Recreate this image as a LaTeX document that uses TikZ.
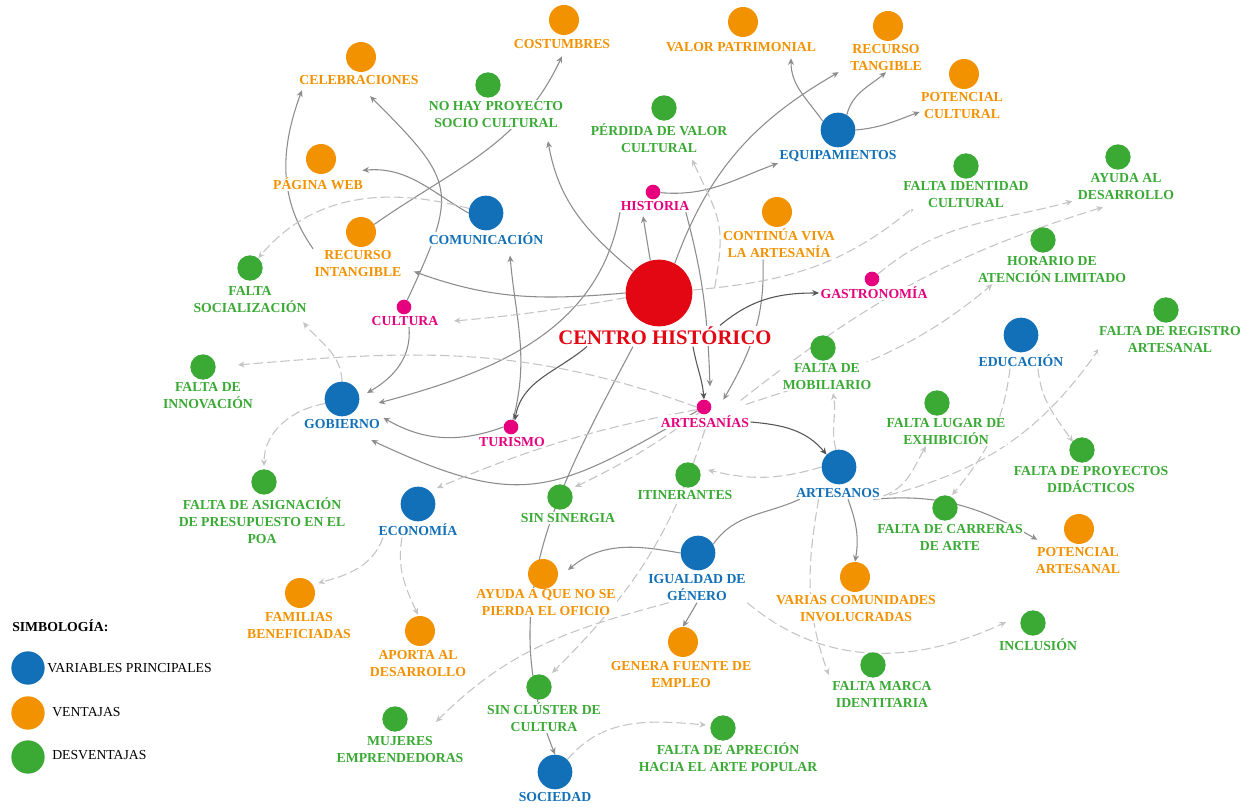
\documentclass[tikz,border=0pt]{standalone}
\usepackage{fontspec}
\setmainfont{Liberation Serif}
\usetikzlibrary{arrows.meta,calc}
\definecolor{cblue}{HTML}{1270B8}
\definecolor{corange}{HTML}{F39200}
\definecolor{cgreen}{HTML}{3AAA35}
\definecolor{cmag}{HTML}{E6007E}
\definecolor{cred}{HTML}{E30613}
\definecolor{lgray}{HTML}{8C8C8C}
\definecolor{dgray}{HTML}{555555}
\definecolor{dashgray}{HTML}{C4C4C4}
\pgfdeclarelayer{bg}
\pgfsetlayers{bg,main}
\begin{document}
\begin{tikzpicture}[x=0.75pt,y=0.75pt,
 vdot/.style={circle,inner sep=0pt,draw=none},
 vb/.style={vdot,fill=cblue,minimum size=26pt},
 vo/.style={vdot,fill=corange,minimum size=22.5pt},
 vg/.style={vdot,fill=cgreen,minimum size=19pt},
 vm/.style={vdot,fill=cmag,minimum size=11pt},
 vr/.style={vdot,fill=cred,minimum size=50pt},
 lab/.style={font=\bfseries\fontsize{10.3}{12.75}\selectfont,align=center,inner sep=1pt,fill=white},
 lblue/.style={lab,text=cblue}, lora/.style={lab,text=corange}, lgre/.style={lab,text=cgreen}, lmag/.style={lab,text=cmag},
 sol/.style={draw=lgray,line width=0.8pt,-{Stealth[length=5pt,width=4.5pt]}},
 sold/.style={draw=dgray,line width=0.8pt,-{Stealth[length=5pt,width=4.5pt]}},
 soln/.style={draw=lgray,line width=0.8pt},
 das/.style={draw=dashgray,line width=0.8pt,dash pattern=on 7pt off 3pt,-{Stealth[length=5pt,width=4.5pt]}},
 legt/.style={font=\fontsize{10.3}{12}\selectfont,anchor=west,inner sep=0pt},
]
\useasboundingbox (0,0) rectangle (1253,807);

% ---------- labels ----------
\node[lora] (lcost) at (562,763) {COSTUMBRES};
\node[lora] (lcele) at (359,727) {CELEBRACIONES};
\node[lgre] (lnohay) at (496,692.5) {NO HAY PROYECTO\\SOCIO CULTURAL};
\node[lora] (lvalor) at (741,760) {VALOR PATRIMONIAL};
\node[lora] (lrtang) at (886,749.5) {RECURSO\\TANGIBLE};
\node[lora] (lpcult) at (962,701) {POTENCIAL\\CULTURAL};
\node[lgre] (lperd) at (659,668.5) {PÉRDIDA DE VALOR\\CULTURAL};
\node[lblue] (lequi) at (838,651) {EQUIPAMIENTOS};
\node[lora] (lweb) at (318,623) {PÁGINA WEB};
\node[lmag] (lhist) at (655,601) {HISTORIA};
\node[lgre] (lfid) at (966,612.5) {FALTA IDENTIDAD\\CULTURAL};
\node[lgre] (layd) at (1126,620.5) {AYUDA AL\\DESARROLLO};
\node[lblue] (lcomu) at (486,568) {COMUNICACIÓN};
\node[lora] (lrint) at (358,543.5) {RECURSO\\INTANGIBLE};
\node[lora] (lcviva) at (779,563.5) {CONTINÚA VIVA\\LA ARTESANÍA};
\node[lgre] (lfsoc) at (250,507.5) {FALTA\\SOCIALIZACIÓN};
\node[lgre] (lhor) at (1052,537.5) {HORARIO DE\\ATENCIÓN LIMITADO};
\node[lab,text=cred,font=\bfseries\fontsize{15.5}{18}\selectfont] (lcen) at (665,471) {CENTRO HISTÓRICO};
\node[lmag] (lgas) at (874,514) {GASTRONOMÍA};
\node[lmag] (lcul) at (405,486) {CULTURA};
\node[lgre] (lfreg) at (1170,467.5) {FALTA DE REGISTRO\\ARTESANAL};
\node[lblue] (ledu) at (1021,446) {EDUCACIÓN};
\node[lgre] (lfmob) at (827,430.5) {FALTA DE\\MOBILIARIO};
\node[lgre] (lfinn) at (208,411.5) {FALTA DE\\INNOVACIÓN};
\node[lblue] (lgob) at (342,383) {GOBIERNO};
\node[lmag] (larte) at (705,385) {ARTESANÍAS};
\node[lmag] (ltur) at (512,365) {TURISMO};
\node[lgre] (lflug) at (946,375.5) {FALTA LUGAR DE\\EXHIBICIÓN};
\node[lblue] (lartos) at (838,314) {ARTESANOS};
\node[lgre] (lfpd) at (1091,327.5) {FALTA DE PROYECTOS\\DIDÁCTICOS};
\node[lgre] (litin) at (685,312) {ITINERANTES};
\node[lgre] (lfasig) at (262,286) {FALTA DE ASIGNACIÓN\\DE PRESUPUESTO EN EL\\POA};
\node[lgre] (lsins) at (568,289) {SIN SINERGIA};
\node[lblue] (leco) at (418,277) {ECONOMÍA};
\node[lgre] (lfcar) at (950,269.5) {FALTA DE CARRERAS\\DE ARTE};
\node[lora] (lpart) at (1078,246.5) {POTENCIAL\\ARTESANAL};
\node[lblue] (ligu) at (697,219) {IGUALDAD DE\\GÉNERO};
\node[lora] (layo) at (546,204.5) {AYUDA A QUE NO SE\\PIERDA EL OFICIO};
\node[lora] (lvarc) at (856,198.5) {VARIAS COMUNIDADES\\INVOLUCRADAS};
\node[lora] (lfam) at (299,181.5) {FAMILIAS\\BENEFICIADAS};
\node[lora] (lapor) at (418,143.5) {APORTA AL\\DESARROLLO};
\node[lora] (lgen) at (681,132.5) {GENERA FUENTE DE\\EMPLEO};
\node[lgre] (lincl) at (1038,162) {INCLUSIÓN};
\node[lgre] (lfmar) at (882,112.5) {FALTA MARCA\\IDENTITARIA};
\node[lgre] (lsclu) at (544,89.5) {SIN CLÚSTER DE\\CULTURA};
\node[lgre] (lmuj) at (400,57.5) {MUJERES\\EMPRENDEDORAS};
\node[lgre] (lfapr) at (728,49.5) {FALTA DE APRECIÓN\\HACIA EL ARTE POPULAR};
\node[lblue] (lsoc) at (555,10) {SOCIEDAD};

% ---------- circles ----------
\node[vo] (ccost) at (564,787) {};
\node[vo] (ccele) at (361,750) {};
\node[vg] (cnohay) at (488,722) {};
\node[vo] (cvalor) at (743,785) {};
\node[vo] (crtang) at (888,781) {};
\node[vo] (cpcult) at (964,733) {};
\node[vg] (cperd) at (664,699) {};
\node[vb] (cequi) at (838,677) {};
\node[vo] (cweb) at (321,648) {};
\node[vm] (chist) at (653,615) {};
\node[vg] (cfid) at (966,641) {};
\node[vg] (cayd) at (1118,650) {};
\node[vb] (ccomu) at (486,594) {};
\node[vo] (crint) at (361,575) {};
\node[vo] (ccviva) at (777,595) {};
\node[vg] (cfsoc) at (250,539) {};
\node[vg] (chor) at (1043,567) {};
\node[vr] (ccen) at (659,514) {};
\node[vm] (cgas) at (872,528) {};
\node[vm] (ccul) at (404,500) {};
\node[vg] (cfreg) at (1166,497) {};
\node[vb] (cedu) at (1021,472) {};
\node[vg] (cfmob) at (823,459) {};
\node[vg] (cfinn) at (203,440) {};
\node[vb] (cgob) at (342,408) {};
\node[vm] (carte) at (704,400) {};
\node[vm] (ctur) at (511,380) {};
\node[vg] (cflug) at (937,404) {};
\node[vb] (cartos) at (839,340) {};
\node[vg] (cfpd) at (1082,357) {};
\node[vg] (citin) at (688,332) {};
\node[vg] (cfasig) at (264,325) {};
\node[vg] (csins) at (560,310) {};
\node[vb] (ceco) at (418,303) {};
\node[vg] (cfcar) at (945,299) {};
\node[vo] (cpart) at (1079,278) {};
\node[vb] (cigu) at (698,254) {};
\node[vo] (cayo) at (543,233) {};
\node[vo] (cvarc) at (855,230) {};
\node[vo] (cfam) at (300,214) {};
\node[vo] (capor) at (420,176) {};
\node[vo] (cgen) at (683,165) {};
\node[vg] (cincl) at (1033,184) {};
\node[vg] (cfmar) at (873,142) {};
\node[vg] (csclu) at (539,120) {};
\node[vg] (cmuj) at (395,88) {};
\node[vg] (cfapr) at (723,79) {};
\node[vb] (csoc) at (555,35) {};

% ---------- legend ----------
\node[font=\bfseries\fontsize{10.3}{12}\selectfont,anchor=west,inner sep=0pt] (ltit) at (12,181) {SIMBOLOGÍA:};
\node[vdot,fill=cblue,minimum size=25pt] (kb) at (28,139) {};
\node[vdot,fill=corange,minimum size=25pt] (ko) at (28,94) {};
\node[vdot,fill=cgreen,minimum size=25pt] (kg) at (28,50) {};
\node[legt] (tkb) at (47,139) {VARIABLES PRINCIPALES};
\node[legt] (tko) at (52,95) {VENTAJAS};
\node[legt] (tkg) at (52,52) {DESVENTAJAS};

% ---------- connectors ----------
\begin{pgfonlayer}{bg}
\fill[white] (0,0) rectangle (1253,807);
% solid
\draw[sol] (ccen.105) -- ($(lhist.south)+(-12,-4)$);
\draw[sol] (ccen.140) to[out=140,in=-80] ($(lnohay.south)+(52,-12)$);
\draw[sol] (ccen.62) to[out=70,in=210] ($(lrtang.south west)+(-10,0)$);
\draw[sol] (chist) to[out=-5,in=200] (lequi.south west);
\draw[sol] (cequi.150) to[out=125,in=-90] ($(lvalor.south)+(50,-5)$);
\draw[sol] (cequi.60) to[out=75,in=-140] (lrtang.south);
\draw[sol] (cequi.east) to[out=5,in=200] ($(lpcult.west)+(0,-6)$);
\draw[sol] (crint.30) to[out=35,in=-115] ($(lcost.south)+(0,-6)$);
\draw[sol] (lrint.north west) to[out=125,in=-110] ($(lcele.south west)+(4,-4)$);
\draw[sol] (ccul) to[out=65,in=-45,looseness=1.5] ($(lcele.south east)+(-50,-10)$);
\draw[sol] (ccomu.west) to[out=150,in=5] ($(lweb.north east)+(-2,6)$);
\draw[sol] (ccen.west) to[out=185,in=-20] ($(lrint.east)+(11,-8)$);
\draw[sol] (ctur) to[out=75,in=-85] ($(lcomu.south)+(24,-9)$);
\draw[sol] ($(lcul.south)+(4,0)$) to[out=-85,in=30] ($(cgob)+(25,6)$);
\draw[sol] ($(lhist.south)+(-35,0)$) to[out=-100,in=15] ($(cgob.east)+(19,-4)$);
\draw[sol] (ctur.west) to[out=200,in=-30] ($(lgob.north east)+(2,0)$);
\draw[sol] (carte) to[out=-150,in=-25,looseness=1.3] ($(lgob.south east)+(-10,-10)$);
\draw[sold] ($(lcen.south)+(-78,0)$) to[out=-140,in=80] (ctur.60);
\draw[sol] ($(lcen.south)+(-32,0)$) to[out=-118,in=112] (csoc.north);
\draw[sol] (cigu.west) to[out=170,in=40] ($(cayo)+(25,4)$);
\draw[sol] (ligu.south) -- (cgen.north);
\draw[soln] (cigu.30) to[out=55,in=-155] ($(lartos.south west)+(5,0)$);
\draw[sol] ($(lartos.south)+(10,0)$) to[out=-70,in=80] (cvarc.north);
\draw[sol] ($(lartos.south east)+(-8,0)$) to[out=5,in=150] ($(lpart.north west)+(3,6)$);
\draw[sold] (larte.east) to[out=-5,in=130] (cartos.135);
\draw[sold] ($(lcen.south)+(28,0)$) to[out=-80,in=95] (carte.north);
\draw[sol] ($(lhist.south east)+(-5,0)$) to[out=-75,in=92] ($(carte.north)+(6,13)$);
\draw[sol] ($(lcviva.south)+(-16,0)$) to[out=-88,in=60] ($(carte.north east)+(14,2)$);
\draw[sold] ($(lcen.north)+(55,0)$) to[out=40,in=180] (lgas.west);
% dashed
\draw[das] (ccomu.165) to[out=165,in=50] (cfsoc);
\draw[das] (ccen.188) to[out=190,in=5] ($(lcul.east)+(14,0)$);
\draw[das] (carte.west) to[out=160,in=5] ($(cfinn.east)+(22,2)$);
\draw[das] (cgob.north) to[out=92,in=-50] ($(lfsoc.south east)+(-5,-8)$);
\draw[das] (cgob.195) to[out=190,in=90] ($(cfasig.north)+(0,3)$);
\draw[das] (carte.200) to[bend right=6] ($(ceco)+(19,16)$);
\draw[das] (carte.230) to[bend left=5] ($(csins)+(15,10)$);
\draw[das] (cartos.west) to[bend left=15] ($(citin.east)+(7,5)$);
\draw[das] (larte.south) to[out=-108,in=45] ($(csclu)+(13,14)$);
\draw[das] (cartos.100) to[out=105,in=-80] ($(lfmob.south)+(6,-2)$);
\draw[das] ($(lartos.east)+(2,-3)$) to[out=20,in=-120] ($(lflug.south west)+(41,0)$);
\draw[das] ($(lartos.east)+(8,-2)$) to[out=15,in=-125] ($(lfreg.south west)+(2,6)$);
\draw[das] ($(ledu.south)+(-11,0)$) to[out=-97,in=50] ($(cfcar)+(7,13)$);
\draw[das] ($(ledu.south)+(17,0)$) to[out=-85,in=125] ($(cfpd)+(-9,8)$);
\draw[das] ($(lartos.south west)+(24,0)$) to[out=-100,in=110] ($(lfmar.north west)+(-2,5)$);
\draw[das] (ligu.south east) to[out=-40,in=-155] ($(cincl.west)+(-14,1)$);
\draw[das] ($(ligu.south west)+(22,0)$) to[out=195,in=45] ($(cmuj.east)+(28,-3)$);
\draw[das] (csoc.45) to[out=50,in=175] ($(cfapr.west)+(-4,3)$);
\draw[das] ($(leco.south)+(-35,0)$) to[out=-110,in=15] ($(cfam.east)+(3,10)$);
\draw[das] ($(leco.south)+(-16,0)$) to[out=-100,in=115] ($(capor.north)+(-2,1)$);
\draw[das] (ccen.5) to[out=5,in=-140] ($(lfid.south west)+(13,3)$);
\draw[das] (cgas) to[out=40,in=-165] ($(layd.south west)+(-4,0)$);
\draw[das] ($(larte.north east)+(-10,14)$) to[out=38,in=-163] ($(layd.south)+(-23,-6)$);
\draw[das] ($(larte.north east)+(-5,10)$) to[out=18,in=-140] ($(lhor.south west)+(16,0)$);
\draw[das] ($(ccen.east)+(22,5)$) to[out=80,in=-65,looseness=1.3] ($(lperd.south)+(33,-5)$);
\end{pgfonlayer}
\end{tikzpicture}
\end{document}
